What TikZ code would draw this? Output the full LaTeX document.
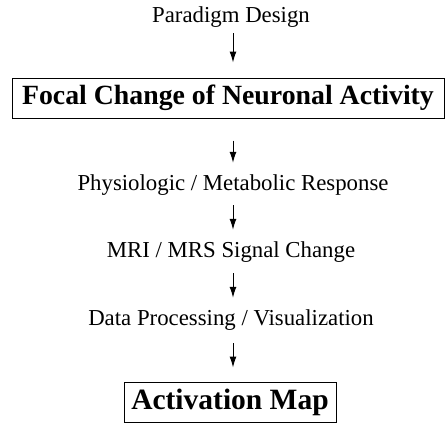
\documentclass[tikz,border=0pt]{standalone}
\usepackage{fontspec}
\setmainfont{Liberation Serif}
\usetikzlibrary{arrows.meta,calc}
\tikzset{
  lbl/.style={inner sep=0pt, text height=15pt, text depth=5pt, font=\fontsize{22.8}{26}\selectfont},
  bigbox/.style={draw, line width=1pt, inner sep=0pt, minimum height=40pt, font=\bfseries\fontsize{27.8}{32}\selectfont},
  arr/.style={line width=1pt, -{Latex[length=11pt,width=7pt]}}
}
\begin{document}
\begin{tikzpicture}[x=1pt,y=1pt]
\useasboundingbox (0,0) rectangle (445,-431);
\node[lbl] (pd) at (231,-17) {Paradigm Design};
\node[bigbox, minimum width=432pt] (focal) at (228,-98) {Focal Change of Neuronal Activity};
\node[lbl] (phys) at (233,-185) {Physiologic / Metabolic Response};
\node[lbl] (mri) at (231,-252) {MRI / MRS Signal Change};
\node[lbl] (data) at (231,-320) {Data Processing / Visualization};
\node[bigbox, minimum width=212pt, font=\bfseries\fontsize{29.5}{34}\selectfont] (act) at (230,-402) {Activation Map};
\coordinate (ax) at (233,0);
\draw[arr] ($(pd.south -| ax)+(0,-6)$) -- ($(focal.north -| ax)+(0,15)$);
\draw[arr] ($(focal.south -| ax)+(0,-22)$) -- ($(phys.north -| ax)+(0,12)$);
\draw[arr] ($(phys.south -| ax)+(0,-10)$) -- ($(mri.north -| ax)+(0,12)$);
\draw[arr] ($(mri.south -| ax)+(0,-11)$) -- ($(data.north -| ax)+(0,12)$);
\draw[arr] ($(data.south -| ax)+(0,-13)$) -- ($(act.north -| ax)+(0,14)$);
\end{tikzpicture}
\end{document}
